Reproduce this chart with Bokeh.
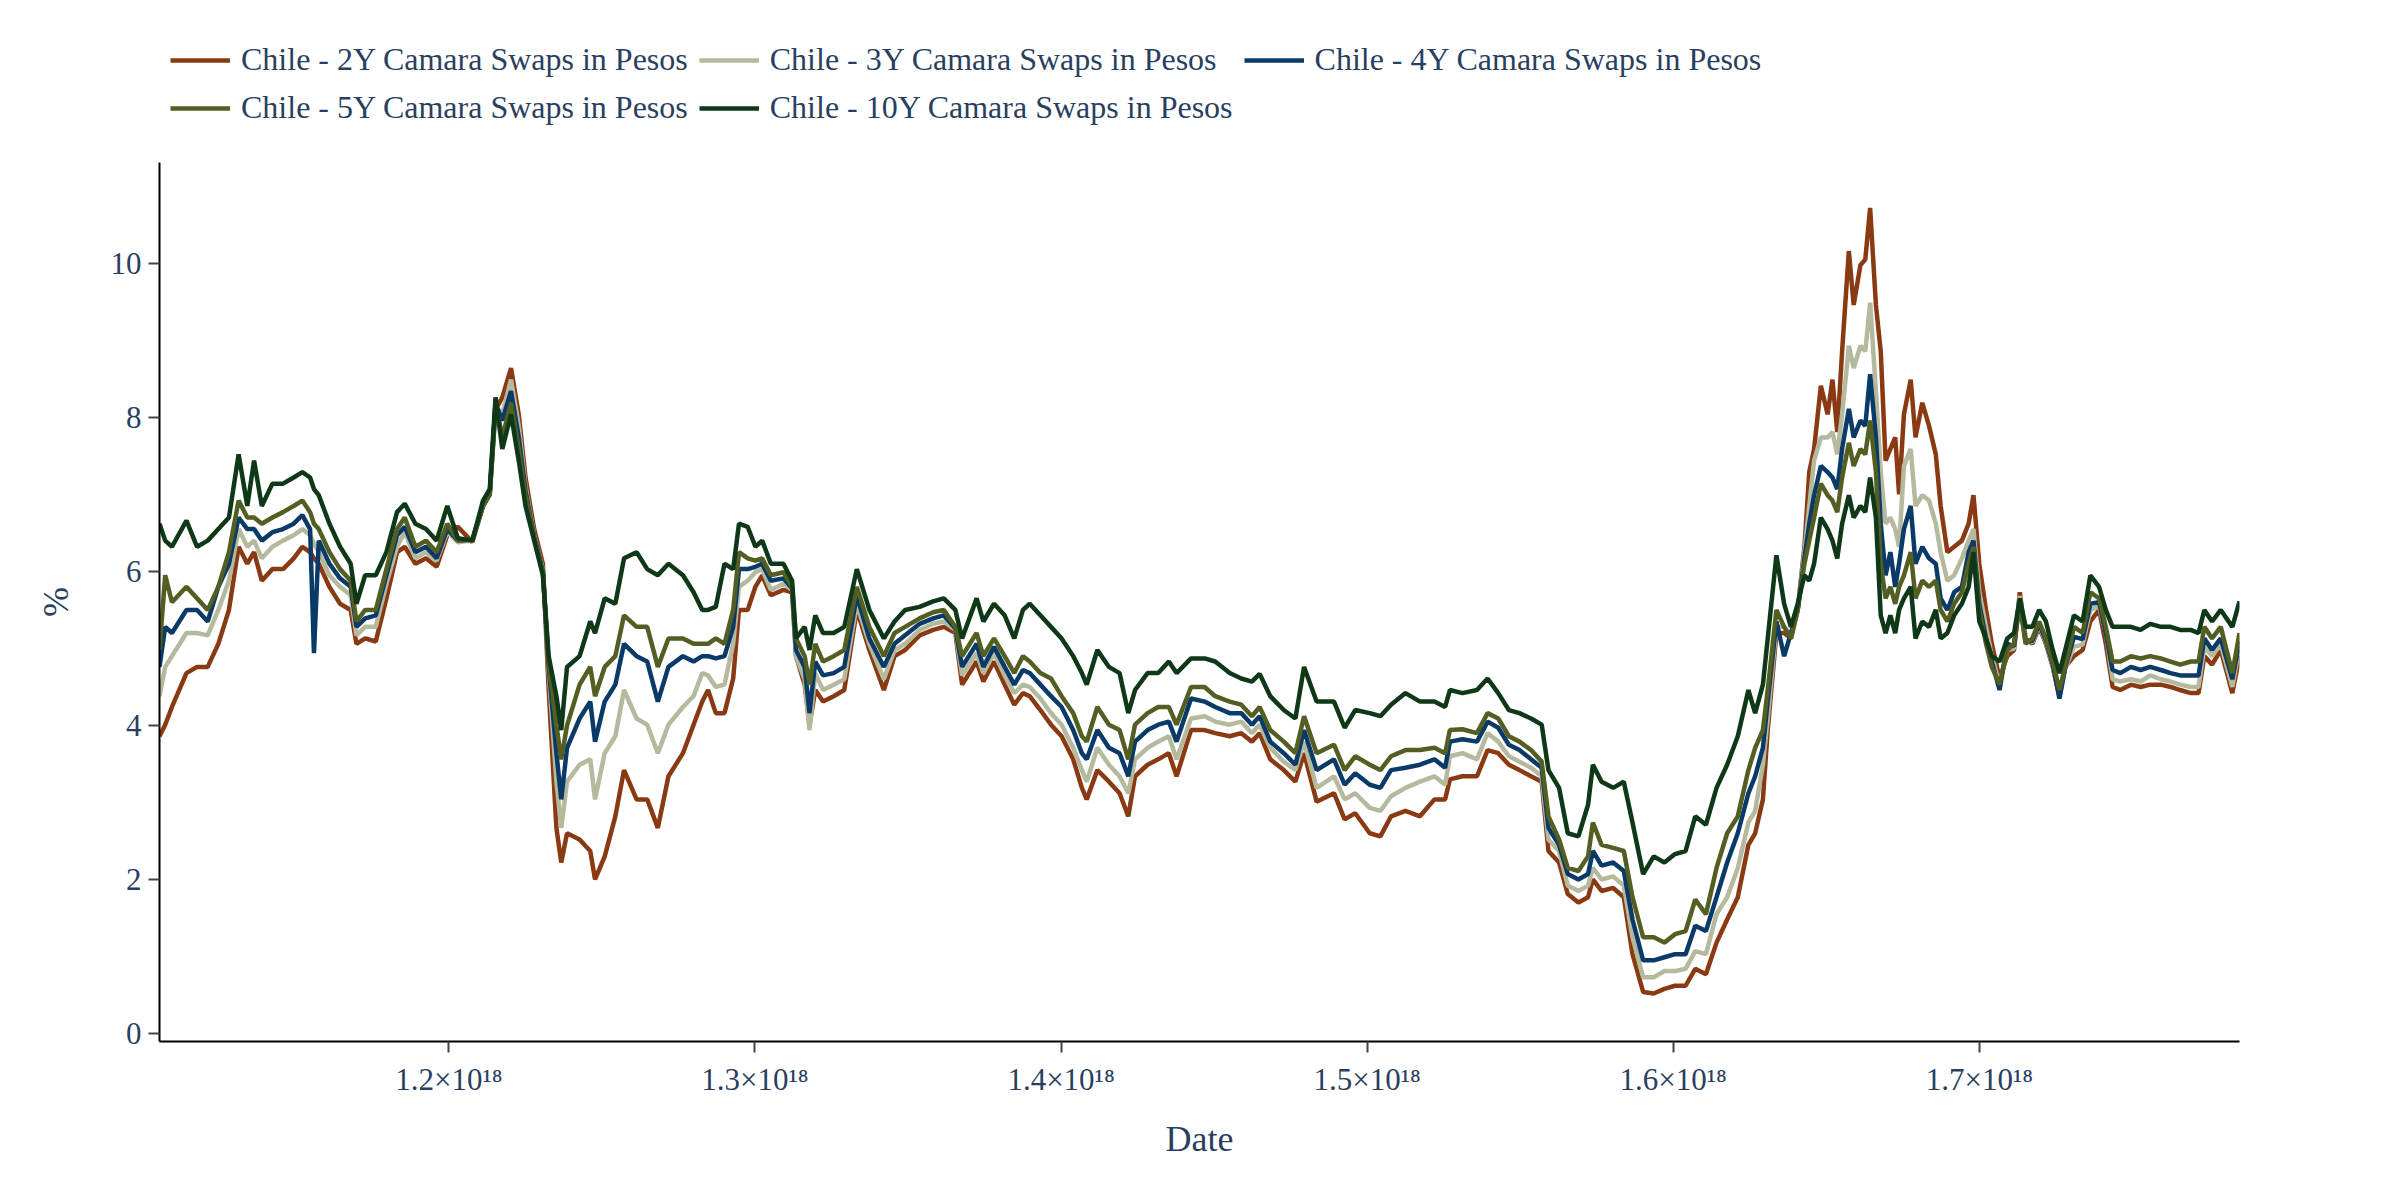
import numpy as np

from bokeh.embed import file_html
from bokeh.layouts import column
from bokeh.models import CustomJSTickFormatter, FixedTicker, Legend, LegendItem, Range1d
from bokeh.plotting import figure
from bokeh.resources import INLINE

# sample dates, as decimal years
years = [
    2005.031, 2005.09, 2005.16, 2005.31, 2005.42, 2005.53, 2005.64, 2005.75, 2005.85, 2005.94,
    2006.01, 2006.09, 2006.20, 2006.31, 2006.42, 2006.51, 2006.59, 2006.63, 2006.68, 2006.79,
    2006.90, 2007.01, 2007.07, 2007.16, 2007.27, 2007.38, 2007.49, 2007.57, 2007.68, 2007.79,
    2007.90, 2008.01, 2008.12, 2008.27, 2008.38, 2008.45, 2008.51, 2008.58, 2008.67, 2008.75,
    2008.82, 2008.91, 2009.00, 2009.06, 2009.14, 2009.19, 2009.25, 2009.38, 2009.49, 2009.54,
    2009.64, 2009.75, 2009.84, 2009.97, 2010.08, 2010.19, 2010.30, 2010.45, 2010.56, 2010.65,
    2010.71, 2010.79, 2010.88, 2010.97, 2011.03, 2011.12, 2011.20, 2011.27, 2011.36, 2011.49,
    2011.58, 2011.62, 2011.71, 2011.76, 2011.82, 2011.90, 2012.01, 2012.12, 2012.25, 2012.38,
    2012.53, 2012.64, 2012.75, 2012.90, 2013.04, 2013.15, 2013.27, 2013.34, 2013.49, 2013.56,
    2013.67, 2013.78, 2013.88, 2013.97, 2014.04, 2014.15, 2014.26, 2014.37, 2014.49, 2014.58,
    2014.63, 2014.74, 2014.86, 2014.97, 2015.06, 2015.13, 2015.26, 2015.37, 2015.48, 2015.56,
    2015.71, 2015.85, 2015.96, 2016.11, 2016.23, 2016.34, 2016.42, 2016.53, 2016.67, 2016.79,
    2016.88, 2017.01, 2017.19, 2017.30, 2017.41, 2017.56, 2017.67, 2017.78, 2017.93, 2018.08,
    2018.23, 2018.34, 2018.39, 2018.52, 2018.67, 2018.78, 2018.89, 2019.00, 2019.11, 2019.23,
    2019.34, 2019.41, 2019.52, 2019.61, 2019.72, 2019.82, 2019.87, 2019.96, 2020.08, 2020.19,
    2020.28, 2020.39, 2020.50, 2020.61, 2020.72, 2020.83, 2020.93, 2021.04, 2021.15, 2021.26,
    2021.37, 2021.48, 2021.55, 2021.63, 2021.68, 2021.77, 2021.85, 2021.92, 2021.99, 2022.06,
    2022.11, 2022.16, 2022.23, 2022.30, 2022.35, 2022.40, 2022.45, 2022.52, 2022.57, 2022.64,
    2022.69, 2022.74, 2022.80, 2022.85, 2022.90, 2022.95, 2023.00, 2023.04, 2023.09, 2023.16,
    2023.21, 2023.28, 2023.35, 2023.42, 2023.47, 2023.54, 2023.61, 2023.69, 2023.76, 2023.81,
    2023.87, 2023.94, 2024.00, 2024.08, 2024.16, 2024.23, 2024.29, 2024.35, 2024.42, 2024.49,
    2024.56, 2024.63, 2024.70, 2024.76, 2024.85, 2024.94, 2025.02, 2025.11, 2025.18, 2025.25,
    2025.33, 2025.44, 2025.54, 2025.64, 2025.75, 2025.85, 2025.95, 2026.06, 2026.14, 2026.20,
    2026.28, 2026.37, 2026.49, 2026.564,
]

swap_2y = [
    3.86, 4.01, 4.24, 4.68, 4.76, 4.76, 5.06, 5.50, 6.32, 6.10,
    6.25, 5.88, 6.03, 6.03, 6.17, 6.32, 6.25, 6.17, 6.10, 5.80,
    5.58, 5.50, 5.06, 5.13, 5.09, 5.65, 6.25, 6.32, 6.10, 6.17,
    6.06, 6.47, 6.58, 6.38, 6.85, 7.00, 8.10, 8.26, 8.64, 8.04,
    7.22, 6.55, 6.10, 4.46, 2.67, 2.22, 2.60, 2.52, 2.37, 2.00,
    2.30, 2.82, 3.42, 3.04, 3.04, 2.67, 3.34, 3.64, 4.01, 4.31,
    4.46, 4.16, 4.16, 4.61, 5.50, 5.50, 5.80, 5.95, 5.69, 5.76,
    5.73, 4.90, 4.53, 4.01, 4.46, 4.31, 4.38, 4.46, 5.50, 4.98,
    4.46, 4.90, 4.98, 5.17, 5.24, 5.28, 5.20, 4.53, 4.83, 4.57,
    4.83, 4.53, 4.27, 4.42, 4.38, 4.20, 4.01, 3.86, 3.56, 3.19,
    3.04, 3.42, 3.27, 3.12, 2.82, 3.34, 3.49, 3.56, 3.64, 3.34,
    3.94, 3.94, 3.90, 3.86, 3.90, 3.79, 3.90, 3.56, 3.42, 3.27,
    3.64, 3.01, 3.12, 2.78, 2.86, 2.60, 2.56, 2.82, 2.89, 2.82,
    3.04, 3.04, 3.30, 3.34, 3.34, 3.68, 3.64, 3.49, 3.42, 3.34,
    3.27, 2.37, 2.22, 1.81, 1.70, 1.77, 2.00, 1.85, 1.89, 1.77,
    1.03, 0.54, 0.52, 0.58, 0.62, 0.62, 0.84, 0.77, 1.18, 1.48,
    1.77, 2.45, 2.60, 3.04, 3.94, 5.20, 5.20, 5.13, 5.50, 6.32,
    7.29, 7.59, 8.41, 8.04, 8.49, 7.81, 8.86, 10.16, 9.46, 9.98,
    10.05, 10.72, 9.46, 8.86, 7.44, 7.59, 7.74, 7.00, 8.04, 8.49,
    7.74, 8.19, 7.89, 7.52, 6.85, 6.25, 6.32, 6.40, 6.62, 6.99,
    6.10, 5.50, 5.06, 4.61, 4.90, 4.98, 5.73, 5.13, 5.06, 5.28,
    5.06, 4.76, 4.38, 4.76, 4.90, 4.98, 5.35, 5.50, 5.06, 4.50,
    4.46, 4.53, 4.50, 4.53, 4.53, 4.50, 4.46, 4.42, 4.42, 4.90,
    4.79, 4.98, 4.42, 4.90,
]

swap_3y = [
    4.38, 4.76, 4.90, 5.20, 5.20, 5.17, 5.50, 5.88, 6.55, 6.32,
    6.40, 6.17, 6.32, 6.40, 6.47, 6.55, 6.47, 6.36, 6.25, 5.95,
    5.80, 5.69, 5.17, 5.28, 5.28, 5.84, 6.32, 6.51, 6.17, 6.25,
    6.14, 6.51, 6.38, 6.40, 6.85, 7.00, 8.15, 8.04, 8.49, 7.89,
    7.10, 6.47, 6.02, 4.70, 3.27, 2.67, 3.27, 3.49, 3.56, 3.04,
    3.64, 3.86, 4.46, 4.09, 4.01, 3.64, 4.01, 4.24, 4.38, 4.68,
    4.65, 4.50, 4.53, 5.06, 5.80, 5.88, 5.99, 6.03, 5.76, 5.84,
    5.76, 4.90, 4.60, 3.94, 4.68, 4.46, 4.53, 4.60, 5.58, 5.06,
    4.60, 4.98, 5.06, 5.24, 5.32, 5.35, 5.24, 4.65, 4.94, 4.68,
    4.94, 4.65, 4.42, 4.53, 4.50, 4.35, 4.16, 4.01, 3.71, 3.42,
    3.27, 3.71, 3.49, 3.34, 3.12, 3.56, 3.71, 3.79, 3.86, 3.56,
    4.09, 4.12, 4.05, 4.01, 4.05, 3.90, 4.01, 3.71, 3.53, 3.42,
    3.79, 3.19, 3.34, 3.04, 3.12, 2.93, 2.89, 3.08, 3.19, 3.27,
    3.34, 3.23, 3.60, 3.64, 3.56, 3.90, 3.79, 3.60, 3.53, 3.45,
    3.34, 2.52, 2.37, 1.92, 1.85, 1.92, 2.15, 2.00, 2.04, 1.92,
    1.25, 0.73, 0.73, 0.81, 0.81, 0.84, 1.07, 1.03, 1.55, 1.77,
    2.15, 2.74, 2.89, 3.49, 4.09, 5.28, 5.28, 5.17, 5.50, 6.25,
    6.85, 7.44, 7.74, 7.74, 7.81, 7.52, 8.04, 8.93, 8.64, 8.93,
    8.86, 9.49, 8.34, 7.29, 6.62, 6.70, 6.55, 6.32, 7.37, 7.59,
    6.85, 6.99, 6.92, 6.62, 6.25, 5.88, 5.95, 6.17, 6.40, 6.55,
    5.73, 5.28, 4.90, 4.53, 4.98, 5.00, 5.68, 5.10, 5.08, 5.30,
    5.08, 4.78, 4.40, 4.74, 5.02, 5.05, 5.50, 5.55, 5.20, 4.60,
    4.57, 4.60, 4.57, 4.65, 4.60, 4.57, 4.53, 4.50, 4.50, 5.02,
    4.90, 5.06, 4.50, 5.02,
]

swap_4y = [
    4.76, 5.28, 5.20, 5.50, 5.50, 5.35, 5.80, 6.10, 6.70, 6.55,
    6.55, 6.40, 6.51, 6.55, 6.62, 6.73, 6.55, 4.94, 6.40, 6.10,
    5.91, 5.80, 5.28, 5.39, 5.43, 5.95, 6.47, 6.58, 6.25, 6.32,
    6.17, 6.55, 6.40, 6.41, 6.85, 7.00, 8.18, 7.96, 8.34, 7.74,
    7.05, 6.45, 6.00, 4.76, 3.64, 3.04, 3.71, 4.09, 4.31, 3.79,
    4.31, 4.53, 5.06, 4.90, 4.83, 4.31, 4.76, 4.90, 4.83, 4.90,
    4.90, 4.87, 4.90, 5.28, 6.03, 6.03, 6.06, 6.10, 5.88, 5.91,
    5.78, 4.98, 4.76, 4.16, 4.83, 4.65, 4.68, 4.76, 5.69, 5.13,
    4.76, 5.06, 5.17, 5.32, 5.39, 5.43, 5.26, 4.76, 5.06, 4.76,
    5.02, 4.76, 4.53, 4.72, 4.68, 4.53, 4.38, 4.24, 3.94, 3.64,
    3.56, 3.94, 3.71, 3.64, 3.34, 3.79, 3.94, 4.01, 4.05, 3.79,
    4.35, 4.31, 4.24, 4.16, 4.16, 4.01, 4.12, 3.79, 3.64, 3.49,
    3.94, 3.42, 3.56, 3.23, 3.38, 3.23, 3.19, 3.42, 3.45, 3.49,
    3.56, 3.45, 3.79, 3.82, 3.79, 4.05, 3.97, 3.75, 3.68, 3.56,
    3.45, 2.67, 2.45, 2.07, 2.00, 2.07, 2.37, 2.18, 2.22, 2.11,
    1.48, 0.95, 0.95, 0.99, 1.03, 1.03, 1.40, 1.33, 1.77, 2.22,
    2.60, 3.12, 3.34, 3.71, 4.31, 5.35, 4.90, 5.20, 5.50, 6.17,
    6.62, 6.99, 7.37, 7.29, 7.22, 7.07, 7.59, 8.11, 7.74, 7.96,
    7.89, 8.56, 7.74, 6.62, 5.95, 6.25, 5.80, 6.10, 6.55, 6.85,
    6.10, 6.32, 6.17, 6.10, 5.65, 5.50, 5.73, 5.80, 6.25, 6.40,
    5.58, 5.13, 4.83, 4.46, 5.06, 5.03, 5.62, 5.08, 5.10, 5.32,
    5.10, 4.80, 4.35, 4.75, 5.15, 5.12, 5.58, 5.60, 5.20, 4.72,
    4.68, 4.76, 4.72, 4.76, 4.72, 4.68, 4.65, 4.65, 4.65, 5.13,
    4.98, 5.13, 4.60, 5.09,
]

swap_5y = [
    4.98, 5.95, 5.60, 5.80, 5.65, 5.50, 5.80, 6.25, 6.92, 6.70,
    6.70, 6.62, 6.70, 6.77, 6.85, 6.92, 6.77, 6.62, 6.55, 6.25,
    6.03, 5.88, 5.35, 5.50, 5.50, 6.03, 6.55, 6.70, 6.32, 6.40,
    6.25, 6.62, 6.40, 6.42, 6.85, 7.02, 8.19, 7.74, 8.19, 7.59,
    6.99, 6.43, 5.98, 4.80, 4.00, 3.56, 4.00, 4.53, 4.76, 4.38,
    4.76, 4.90, 5.43, 5.28, 5.28, 4.76, 5.13, 5.13, 5.06, 5.06,
    5.06, 5.13, 5.06, 5.50, 6.25, 6.17, 6.14, 6.17, 5.95, 5.99,
    5.80, 5.13, 4.90, 4.53, 5.06, 4.83, 4.90, 4.98, 5.80, 5.28,
    4.90, 5.20, 5.28, 5.39, 5.47, 5.50, 5.28, 4.90, 5.20, 4.90,
    5.13, 4.90, 4.68, 4.90, 4.83, 4.68, 4.61, 4.38, 4.16, 3.86,
    3.79, 4.24, 4.01, 3.94, 3.56, 4.01, 4.16, 4.24, 4.24, 4.01,
    4.50, 4.50, 4.38, 4.31, 4.27, 4.12, 4.24, 3.94, 3.79, 3.64,
    4.12, 3.64, 3.75, 3.42, 3.60, 3.49, 3.42, 3.60, 3.68, 3.68,
    3.71, 3.64, 3.94, 3.95, 3.90, 4.16, 4.09, 3.86, 3.79, 3.68,
    3.53, 2.82, 2.52, 2.15, 2.11, 2.30, 2.74, 2.45, 2.41, 2.37,
    1.77, 1.25, 1.25, 1.18, 1.29, 1.33, 1.74, 1.55, 2.15, 2.60,
    2.82, 3.42, 3.71, 3.94, 4.46, 5.50, 5.28, 5.13, 5.50, 6.10,
    6.40, 6.70, 7.14, 6.99, 6.92, 6.77, 7.22, 7.67, 7.37, 7.59,
    7.52, 7.96, 7.29, 6.10, 5.65, 5.80, 5.58, 5.80, 5.95, 6.25,
    5.65, 5.88, 5.80, 5.88, 5.50, 5.35, 5.58, 5.73, 6.10, 6.32,
    5.50, 5.06, 4.76, 4.53, 4.98, 5.06, 5.58, 5.06, 5.13, 5.35,
    5.13, 4.83, 4.46, 4.76, 5.28, 5.20, 5.73, 5.65, 5.28, 4.83,
    4.83, 4.90, 4.87, 4.90, 4.87, 4.83, 4.79, 4.83, 4.83, 5.28,
    5.13, 5.28, 4.68, 5.20,
]

swap_10y = [
    6.62, 6.40, 6.32, 6.66, 6.32, 6.40, 6.55, 6.70, 7.52, 6.85,
    7.44, 6.85, 7.14, 7.14, 7.22, 7.29, 7.22, 7.07, 6.99, 6.62,
    6.32, 6.10, 5.58, 5.95, 5.95, 6.25, 6.77, 6.88, 6.62, 6.55,
    6.40, 6.85, 6.43, 6.40, 6.92, 7.07, 8.26, 7.59, 8.04, 7.44,
    6.85, 6.40, 5.95, 4.90, 4.38, 3.94, 4.76, 4.90, 5.35, 5.20,
    5.65, 5.58, 6.17, 6.25, 6.03, 5.95, 6.10, 5.95, 5.73, 5.50,
    5.50, 5.54, 6.10, 6.03, 6.62, 6.58, 6.32, 6.40, 6.10, 6.10,
    5.88, 5.13, 5.28, 4.98, 5.43, 5.20, 5.20, 5.28, 6.03, 5.50,
    5.13, 5.35, 5.50, 5.54, 5.61, 5.65, 5.50, 5.13, 5.65, 5.35,
    5.58, 5.43, 5.13, 5.50, 5.58, 5.43, 5.28, 5.13, 4.90, 4.68,
    4.53, 4.98, 4.76, 4.68, 4.16, 4.46, 4.68, 4.68, 4.83, 4.68,
    4.87, 4.87, 4.83, 4.68, 4.61, 4.57, 4.67, 4.38, 4.20, 4.09,
    4.76, 4.31, 4.31, 3.97, 4.20, 4.16, 4.12, 4.27, 4.42, 4.31,
    4.31, 4.24, 4.46, 4.42, 4.46, 4.61, 4.42, 4.20, 4.16, 4.09,
    4.01, 3.42, 3.19, 2.60, 2.56, 2.97, 3.49, 3.27, 3.19, 3.27,
    2.74, 2.07, 2.30, 2.22, 2.33, 2.37, 2.82, 2.71, 3.19, 3.49,
    3.86, 4.46, 4.16, 4.53, 5.13, 6.21, 5.58, 5.28, 5.58, 5.95,
    5.88, 6.10, 6.70, 6.55, 6.40, 6.17, 6.62, 6.99, 6.70, 6.85,
    6.77, 7.22, 6.70, 5.43, 5.20, 5.43, 5.20, 5.50, 5.65, 5.80,
    5.13, 5.35, 5.28, 5.50, 5.13, 5.20, 5.43, 5.58, 5.80, 6.25,
    5.35, 5.13, 4.90, 4.83, 5.13, 5.20, 5.65, 5.28, 5.28, 5.50,
    5.35, 4.98, 4.68, 4.98, 5.43, 5.35, 5.95, 5.80, 5.50, 5.28,
    5.28, 5.28, 5.24, 5.32, 5.28, 5.28, 5.24, 5.24, 5.20, 5.50,
    5.35, 5.50, 5.28, 5.61,
]

series_labels = [
    "Chile - 2Y Camara Swaps in Pesos",
    "Chile - 3Y Camara Swaps in Pesos",
    "Chile - 4Y Camara Swaps in Pesos",
    "Chile - 5Y Camara Swaps in Pesos",
    "Chile - 10Y Camara Swaps in Pesos",
]
series_colors = ["#8a3a12", "#b5b99e", "#0a3a68", "#535e22", "#0e3817"]

y_ticks = [0, 2, 4, 6, 8, 10]
x_ticks = [1.2e18, 1.3e18, 1.4e18, 1.5e18, 1.6e18, 1.7e18]

FONT = "Liberation Serif"
TEXT = "#2a3f5f"
LEGEND_H = 140

# the axis shows the raw date value in nanoseconds since 1970
NS_PER_YEAR = 365.2425 * 86400 * 1e9
x_ns = (np.array(years) - 1970.0) * NS_PER_YEAR
all_series = [swap_2y, swap_3y, swap_4y, swap_5y, swap_10y]

p = figure(width=2384, height=1184 - LEGEND_H, output_backend="svg", toolbar_location=None,
           x_range=Range1d(x_ns[0], x_ns[-1]), y_range=Range1d(-0.104, 11.31),
           min_border_left=159, min_border_right=145, min_border_top=162 - LEGEND_H,
           min_border_bottom=143)
p.background_fill_color = "white"
p.border_fill_color = "white"
p.outline_line_color = None
p.grid.visible = False

p.xaxis.axis_label = "Date"
p.yaxis.axis_label = "%"
p.xaxis.ticker = FixedTicker(ticks=x_ticks)
p.yaxis.ticker = FixedTicker(ticks=y_ticks)
p.xaxis.formatter = CustomJSTickFormatter(code="return (tick / 1e18).toFixed(1) + '×10¹⁸';")

p.axis.axis_line_color = "black"
p.axis.axis_line_width = 2
p.axis.major_tick_line_color = "#444444"
p.axis.major_tick_line_width = 2
p.axis.major_tick_out = 11
p.axis.major_tick_in = 0
p.axis.minor_tick_line_color = None
p.axis.major_label_text_font = FONT
p.axis.major_label_text_font_size = "31px"
p.axis.major_label_text_color = TEXT
p.axis.axis_label_text_font = FONT
p.axis.axis_label_text_font_size = "36px"
p.axis.axis_label_text_font_style = "normal"
p.axis.axis_label_text_color = TEXT
p.xaxis.major_label_standoff = 9
p.xaxis.axis_label_standoff = 19
p.yaxis.major_label_standoff = 7
p.yaxis.axis_label_standoff = 32

for color, vals in zip(series_colors, all_series):
    p.line(x_ns, vals, line_color=color, line_width=4.5)

# legend strip above the chart: the same series again, with ranges that keep
# them out of view, so only the legend shows. Its frame lines up with the chart's.
leg = figure(width=2384, height=LEGEND_H, output_backend="svg", toolbar_location=None,
             x_range=Range1d(0, 1), y_range=Range1d(0, 1), x_axis_type=None, y_axis_type=None,
             min_border=0)
leg.outline_line_color = None
leg.grid.visible = False

items = []
for label, color, vals in zip(series_labels, series_colors, all_series):
    r = leg.line(x_ns, vals, line_color=color, line_width=4.5)
    items.append(LegendItem(label=label, renderers=[r]))

legend = Legend(items=items, location=(11, 14), orientation="horizontal", ncols=3,
                padding=0, margin=0, spacing=11, glyph_width=60, glyph_height=20,
                label_standoff=11, label_text_font=FONT, label_text_font_size="32px",
                label_text_color=TEXT, border_line_color=None, background_fill_alpha=0)
leg.add_layout(legend)

open("out.html", "w").write(file_html(column(leg, p, spacing=0), INLINE))
